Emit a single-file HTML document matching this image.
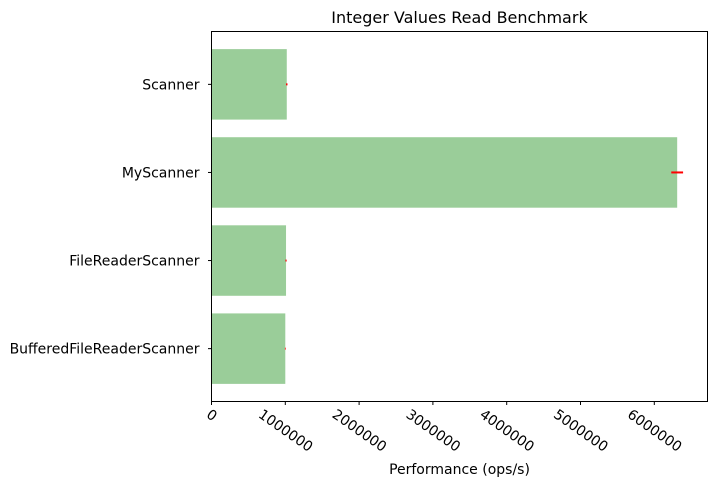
<!DOCTYPE html>
<html><head><meta charset="utf-8"><style>
body{margin:0;background:#fff;font-family:"Liberation Sans","DejaVu Sans",sans-serif;}
svg text{font-family:"DejaVu Sans","Liberation Sans",sans-serif;}
</style></head><body>
<svg id="chart" width="720" height="487"></svg>
<script>
const categories=["Scanner","MyScanner","FileReaderScanner","BufferedFileReaderScanner"];
const values=[1020000,6310000,1010000,1000000];
const errors=[10000,80000,8000,5000];
const ticks=[0,1000000,2000000,3000000,4000000,5000000,6000000];
const L=211.5,R=707.5,T=31.5,B=401.5;
const ns="http://www.w3.org/2000/svg";
const svg=document.getElementById('chart');
function x(v){return L+v*(654.3-211.5)/6000000;}
function y(i){return T+(i+0.6)*(B-T)/4.2;}
function mk(t,a,txt){const e=document.createElementNS(ns,t);for(const k in a)e.setAttribute(k,a[k]);if(txt!==undefined)e.textContent=txt;svg.appendChild(e);return e;}
const bw=0.8*(B-T)/4.2;
categories.forEach((c,i)=>{
 const r=mk('rect',{x:x(0),y:y(i)-bw/2,width:x(values[i])-x(0),height:bw,fill:'#9acd99'});
 
 
 const e=mk('line',{x1:x(values[i]-errors[i]),x2:x(values[i]+errors[i]),y1:y(i),y2:y(i),stroke:'#f00','stroke-width':2});
 
 
 mk('line',{x1:L-3.5,x2:L,y1:y(i),y2:y(i),stroke:'#000'});
 const t=mk('text',{x:L-12,y:y(i)+5,'text-anchor':'end','font-size':14},c);
 
 
});
const a=35*Math.PI/180;
ticks.forEach(v=>{
 mk('line',{x1:x(v),x2:x(v),y1:B,y2:B+3.5,stroke:'#000'});
 const t=mk('text',{'text-anchor':'middle','dominant-baseline':'central','font-size':14},String(v));
 const w=t.getComputedTextLength();
 const h=w*Math.sin(a)+14*Math.cos(a);
 t.setAttribute('transform',`translate(${x(v)},${B+6+h/2}) rotate(35)`);
 
 
});
const f=mk('rect',{x:L,y:T,width:R-L,height:B-T,fill:'none',stroke:'#000','stroke-width':1});


const ti=mk('text',{x:(L+R)/2,y:23,'text-anchor':'middle','font-size':16},'Integer Values Read Benchmark');


const xl=mk('text',{x:(L+R)/2,y:474,'text-anchor':'middle','font-size':14},'Performance (ops/s)');


</script>
</body></html>
